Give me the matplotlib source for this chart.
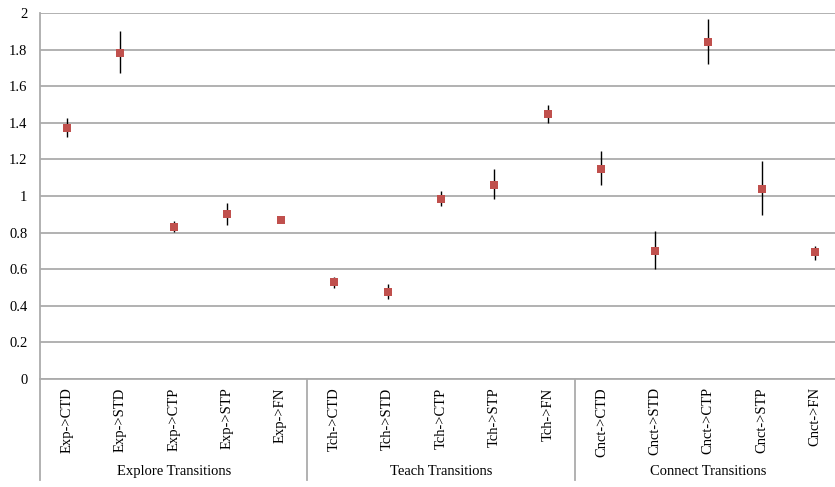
import numpy as np
import matplotlib
matplotlib.use("Agg")
import matplotlib.pyplot as plt

# ---- data ----
labels = ["Exp->CTD", "Exp->STD", "Exp->CTP", "Exp->STP", "Exp->FN",
          "Tch->CTD", "Tch->STD", "Tch->CTP", "Tch->STP", "Tch->FN",
          "Cnct->CTD", "Cnct->STD", "Cnct->CTP", "Cnct->STP", "Cnct->FN"]
groups = ["Explore Transitions", "Teach Transitions", "Connect Transitions"]

means = [1.371, 1.782, 0.833, 0.904, 0.871,
         0.530, 0.477, 0.986, 1.062, 1.448,
         1.149, 0.698, 1.841, 1.036, 0.692]
err_low = [1.320, 1.673, 0.805, 0.844, 0.866,
           0.500, 0.435, 0.944, 0.982, 1.400,
           1.058, 0.600, 1.722, 0.898, 0.653]
err_high = [1.426, 1.900, 0.864, 0.964, 0.876,
            0.559, 0.520, 1.027, 1.146, 1.497,
            1.245, 0.809, 1.967, 1.193, 0.727]

plt.rcParams['font.family'] = ['Liberation Serif', 'DejaVu Serif']

fig = plt.figure(figsize=(8.35, 4.87), dpi=100)
ax = fig.add_axes([40 / 835, 108 / 487, 802 / 835, 366 / 487])

x = np.arange(len(labels))
m = np.array(means)
yerr = [m - np.array(err_low), np.array(err_high) - m]

ax.errorbar(x, m, yerr=yerr, fmt='none', ecolor='black', elinewidth=1.0, capsize=0, zorder=3)
ax.plot(x, m, 's', color='#C0504D', markersize=6, markeredgewidth=0, zorder=4)

ax.set_xlim(-0.5, len(labels) - 0.5)
ax.set_ylim(0, 2)
ax.set_yticks(np.arange(0, 2.01, 0.2))
ax.set_yticklabels(["0", "0.2", "0.4", "0.6", "0.8", "1", "1.2", "1.4", "1.6", "1.8", "2"])
ax.yaxis.grid(True, color='#ABABAB', linewidth=1.3)
ax.set_axisbelow(True)

ax.set_xticks(x)
ax.set_xticklabels(labels, rotation=90, va='top', ha='center')
ax.tick_params(axis='x', length=0, pad=6, labelsize=10.5)
ax.tick_params(axis='y', length=0, pad=9, labelsize=10.5)

for s in ['top', 'right']:
    ax.spines[s].set_visible(False)
ax.spines['left'].set_color('#ABABAB')
ax.spines['left'].set_linewidth(1.3)
ax.spines['bottom'].set_color('#ABABAB')
ax.spines['bottom'].set_linewidth(1.3)

# group separators and group labels under the category labels
trans = ax.get_xaxis_transform()
for b in [-0.5, 4.5, 9.5, 14.5]:
    ax.plot([b, b], [0, -0.277], color='#ABABAB', linewidth=1.3,
            transform=trans, clip_on=False)
for i, g in enumerate(groups):
    ax.text(i * 5 + 2, -0.252, g, transform=trans, ha='center', va='center', fontsize=10.5)

fig.savefig("out.png", dpi=100)
